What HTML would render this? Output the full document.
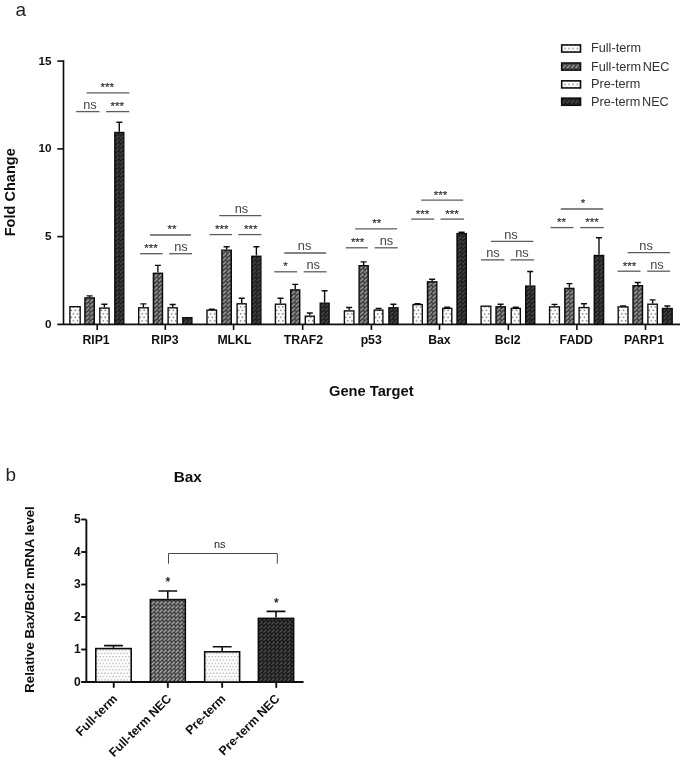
<!DOCTYPE html>
<html><head><meta charset="utf-8"><title>Figure</title>
<style>
html,body{margin:0;padding:0;background:#fff;}
body{width:685px;height:761px;overflow:hidden;font-family:"Liberation Sans",sans-serif;}
svg{display:block;}
text{font-family:"Liberation Sans",sans-serif;}
.b{font-weight:bold;fill:#111;}
.g{fill:#444;}
</style></head><body>
<svg width="685" height="761" viewBox="0 0 685 761">
<defs>
<pattern id="dots" x="1" y="-1.5" width="4.1" height="6.9" patternUnits="userSpaceOnUse">
<rect width="4.1" height="6.9" fill="#fdfdfd"/><rect x="2.4" y="4.1" width="1.4" height="1.4" fill="#747474"/><rect x="0.35" y="0.65" width="1.4" height="1.4" fill="#747474"/>
</pattern>
<pattern id="dotsb" x="1.2" y="-0.5" width="3.2" height="6.6" patternUnits="userSpaceOnUse">
<rect width="3.2" height="6.6" fill="#fdfdfd"/><rect x="0.3" y="1.1" width="1.05" height="1.05" fill="#8c8c8c"/><rect x="1.9" y="4.4" width="1.05" height="1.05" fill="#8c8c8c"/>
</pattern>
<pattern id="hg" x="1.175" y="-0.5" width="4.25" height="4.2" patternUnits="userSpaceOnUse">
<rect width="4.25" height="4.2" fill="#383838"/><path d="M1.0,3.25 L3.25,1.0" stroke="#959595" stroke-width="1.75" stroke-linecap="round"/>
</pattern>
<pattern id="hd" x="1.175" y="-0.5" width="4.25" height="4.2" patternUnits="userSpaceOnUse">
<rect width="4.25" height="4.2" fill="#1a1a1a"/><path d="M1.0,3.25 L3.25,1.0" stroke="#444" stroke-width="1.75" stroke-linecap="round"/>
</pattern>
<pattern id="hgb" x="1.3" y="-0.5" width="4.02" height="4.03" patternUnits="userSpaceOnUse">
<rect width="4.02" height="4.03" fill="#363636"/><path d="M0.95,3.1 L3.1,0.95" stroke="#a4a4a4" stroke-width="1.7" stroke-linecap="round"/>
</pattern>
<pattern id="hdb" x="1.3" y="-0.5" width="4.02" height="4.03" patternUnits="userSpaceOnUse">
<rect width="4.02" height="4.03" fill="#141414"/><path d="M0.95,3.1 L3.1,0.95" stroke="#4a4a4a" stroke-width="1.7" stroke-linecap="round"/>
</pattern>
<filter id="bl" x="-2%" y="-2%" width="104%" height="104%"><feGaussianBlur stdDeviation="0.6"/></filter>
</defs>
<rect width="685" height="761" fill="#fff"/>
<g filter="url(#bl)">

<text x="15.5" y="15.6" font-size="19" fill="#222">a</text>
<text x="5.5" y="480.5" font-size="19" fill="#222">b</text>
<g stroke="#111" stroke-width="1.6" fill="none">
<path d="M63.5,60.3 V324.35"/>
<path d="M57.3,324.35 H680"/>
<path d="M57.3,236.6 H63.5"/>
<path d="M57.3,148.9 H63.5"/>
<path d="M57.3,61.1 H63.5"/>
<path d="M97.2,324.35 V329.95000000000005"/>
<path d="M165.3,324.35 V329.95000000000005"/>
<path d="M233.6,324.35 V329.95000000000005"/>
<path d="M302.7,324.35 V329.95000000000005"/>
<path d="M371.4,324.35 V329.95000000000005"/>
<path d="M439.5,324.35 V329.95000000000005"/>
<path d="M508.3,324.35 V329.95000000000005"/>
<path d="M576.9,324.35 V329.95000000000005"/>
<path d="M645.5,324.35 V329.95000000000005"/>
</g>
<text class="b" x="51.5" y="327.8" font-size="11.7" text-anchor="end">0</text>
<text class="b" x="51.5" y="240.0" font-size="11.7" text-anchor="end">5</text>
<text class="b" x="51.5" y="152.3" font-size="11.7" text-anchor="end">10</text>
<text class="b" x="51.5" y="64.5" font-size="11.7" text-anchor="end">15</text>
<text class="b" font-size="14.55" text-anchor="middle" transform="translate(14.6,192.3) rotate(-90)">Fold Change</text>
<text class="b" x="371.3" y="395.5" font-size="14.7" text-anchor="middle">Gene Target</text>
<text class="b" x="96.0" y="344.0" font-size="12.25" text-anchor="middle">RIP1</text>
<text class="b" x="164.9" y="344.0" font-size="12.25" text-anchor="middle">RIP3</text>
<text class="b" x="234.4" y="344.0" font-size="12.25" text-anchor="middle">MLKL</text>
<text class="b" x="303.4" y="344.0" font-size="12.25" text-anchor="middle">TRAF2</text>
<text class="b" x="371.2" y="344.0" font-size="12.25" text-anchor="middle">p53</text>
<text class="b" x="439.4" y="344.0" font-size="12.25" text-anchor="middle">Bax</text>
<text class="b" x="507.7" y="344.0" font-size="12.25" text-anchor="middle">Bcl2</text>
<text class="b" x="576.3" y="344.0" font-size="12.25" text-anchor="middle">FADD</text>
<text class="b" x="644.0" y="344.0" font-size="12.25" text-anchor="middle">PARP1</text>
<g transform="translate(69.20,324.35)"><rect x="0.70" y="-17.65" width="10.30" height="17.65" fill="url(#dots)" stroke="#111" stroke-width="1.4"/></g>
<path d="M89.6,297.2 V295.9 M86.6,295.9 H92.6" stroke="#111" stroke-width="1.4" fill="none"/>
<g transform="translate(84.20,324.35)"><rect x="0.70" y="-26.45" width="9.40" height="26.45" fill="url(#hg)" stroke="#111" stroke-width="1.4"/></g>
<path d="M104.4,307.4 V304.2 M101.4,304.2 H107.4" stroke="#111" stroke-width="1.4" fill="none"/>
<g transform="translate(99.10,324.35)"><rect x="0.70" y="-16.25" width="9.30" height="16.25" fill="url(#dots)" stroke="#111" stroke-width="1.4"/></g>
<path d="M119.3,131.8 V122.2 M116.3,122.2 H122.3" stroke="#111" stroke-width="1.4" fill="none"/>
<g transform="translate(114.10,324.35)"><rect x="0.70" y="-191.85" width="9.00" height="191.85" fill="url(#hd)" stroke="#111" stroke-width="1.4"/></g>
<path d="M143.4,307.1 V303.9 M140.4,303.9 H146.4" stroke="#111" stroke-width="1.4" fill="none"/>
<g transform="translate(138.00,324.35)"><rect x="0.70" y="-16.55" width="9.50" height="16.55" fill="url(#dots)" stroke="#111" stroke-width="1.4"/></g>
<path d="M157.9,272.6 V265.4 M154.9,265.4 H160.9" stroke="#111" stroke-width="1.4" fill="none"/>
<g transform="translate(152.70,324.35)"><rect x="0.70" y="-51.05" width="9.10" height="51.05" fill="url(#hg)" stroke="#111" stroke-width="1.4"/></g>
<path d="M172.7,307.1 V304.5 M169.7,304.5 H175.7" stroke="#111" stroke-width="1.4" fill="none"/>
<g transform="translate(167.40,324.35)"><rect x="0.70" y="-16.55" width="9.10" height="16.55" fill="url(#dots)" stroke="#111" stroke-width="1.4"/></g>
<g transform="translate(182.10,324.35)"><rect x="0.70" y="-6.65" width="9.10" height="6.65" fill="url(#hd)" stroke="#111" stroke-width="1.4"/></g>
<path d="M211.8,309.4 V309.2 M208.8,309.2 H214.8" stroke="#111" stroke-width="1.4" fill="none"/>
<g transform="translate(206.30,324.35)"><rect x="0.70" y="-14.25" width="9.50" height="14.25" fill="url(#dots)" stroke="#111" stroke-width="1.4"/></g>
<path d="M226.6,249.5 V246.7 M223.6,246.7 H229.6" stroke="#111" stroke-width="1.4" fill="none"/>
<g transform="translate(221.20,324.35)"><rect x="0.70" y="-74.15" width="9.40" height="74.15" fill="url(#hg)" stroke="#111" stroke-width="1.4"/></g>
<path d="M241.7,303.1 V298.2 M238.7,298.2 H244.7" stroke="#111" stroke-width="1.4" fill="none"/>
<g transform="translate(236.40,324.35)"><rect x="0.70" y="-20.55" width="9.10" height="20.55" fill="url(#dots)" stroke="#111" stroke-width="1.4"/></g>
<path d="M256.4,255.6 V246.7 M253.4,246.7 H259.4" stroke="#111" stroke-width="1.4" fill="none"/>
<g transform="translate(251.10,324.35)"><rect x="0.70" y="-68.05" width="9.10" height="68.05" fill="url(#hd)" stroke="#111" stroke-width="1.4"/></g>
<path d="M280.5,303.5 V298.2 M277.5,298.2 H283.5" stroke="#111" stroke-width="1.4" fill="none"/>
<g transform="translate(274.70,324.35)"><rect x="0.70" y="-20.15" width="10.20" height="20.15" fill="url(#dots)" stroke="#111" stroke-width="1.4"/></g>
<path d="M295.2,289.2 V284.4 M292.2,284.4 H298.2" stroke="#111" stroke-width="1.4" fill="none"/>
<g transform="translate(290.00,324.35)"><rect x="0.70" y="-34.45" width="9.00" height="34.45" fill="url(#hg)" stroke="#111" stroke-width="1.4"/></g>
<path d="M309.8,315.5 V313.0 M306.8,313.0 H312.8" stroke="#111" stroke-width="1.4" fill="none"/>
<g transform="translate(304.60,324.35)"><rect x="0.70" y="-8.15" width="9.00" height="8.15" fill="url(#dots)" stroke="#111" stroke-width="1.4"/></g>
<path d="M324.6,302.5 V290.7 M321.6,290.7 H327.6" stroke="#111" stroke-width="1.4" fill="none"/>
<g transform="translate(319.50,324.35)"><rect x="0.70" y="-21.15" width="8.90" height="21.15" fill="url(#hd)" stroke="#111" stroke-width="1.4"/></g>
<path d="M349.1,310.2 V307.5 M346.1,307.5 H352.1" stroke="#111" stroke-width="1.4" fill="none"/>
<g transform="translate(343.70,324.35)"><rect x="0.70" y="-13.45" width="9.50" height="13.45" fill="url(#dots)" stroke="#111" stroke-width="1.4"/></g>
<path d="M363.6,265.0 V261.9 M360.6,261.9 H366.6" stroke="#111" stroke-width="1.4" fill="none"/>
<g transform="translate(358.40,324.35)"><rect x="0.70" y="-58.65" width="9.10" height="58.65" fill="url(#hg)" stroke="#111" stroke-width="1.4"/></g>
<path d="M378.6,309.4 V308.5 M375.6,308.5 H381.6" stroke="#111" stroke-width="1.4" fill="none"/>
<g transform="translate(373.50,324.35)"><rect x="0.70" y="-14.25" width="8.70" height="14.25" fill="url(#dots)" stroke="#111" stroke-width="1.4"/></g>
<path d="M393.4,307.1 V304.3 M390.4,304.3 H396.4" stroke="#111" stroke-width="1.4" fill="none"/>
<g transform="translate(388.20,324.35)"><rect x="0.70" y="-16.55" width="9.10" height="16.55" fill="url(#hd)" stroke="#111" stroke-width="1.4"/></g>
<path d="M417.6,303.9 V303.6 M414.6,303.6 H420.6" stroke="#111" stroke-width="1.4" fill="none"/>
<g transform="translate(412.30,324.35)"><rect x="0.70" y="-19.75" width="9.30" height="19.75" fill="url(#dots)" stroke="#111" stroke-width="1.4"/></g>
<path d="M432.1,281.1 V279.3 M429.1,279.3 H435.1" stroke="#111" stroke-width="1.4" fill="none"/>
<g transform="translate(426.80,324.35)"><rect x="0.70" y="-42.55" width="9.30" height="42.55" fill="url(#hg)" stroke="#111" stroke-width="1.4"/></g>
<path d="M447.2,307.7 V307.2 M444.2,307.2 H450.2" stroke="#111" stroke-width="1.4" fill="none"/>
<g transform="translate(442.00,324.35)"><rect x="0.70" y="-15.95" width="9.10" height="15.95" fill="url(#dots)" stroke="#111" stroke-width="1.4"/></g>
<path d="M461.6,232.9 V232.2 M458.6,232.2 H464.6" stroke="#111" stroke-width="1.4" fill="none"/>
<g transform="translate(456.30,324.35)"><rect x="0.70" y="-90.75" width="9.30" height="90.75" fill="url(#hd)" stroke="#111" stroke-width="1.4"/></g>
<g transform="translate(480.40,324.35)"><rect x="0.70" y="-18.15" width="9.70" height="18.15" fill="url(#dots)" stroke="#111" stroke-width="1.4"/></g>
<path d="M500.6,306.1 V304.3 M497.6,304.3 H503.6" stroke="#111" stroke-width="1.4" fill="none"/>
<g transform="translate(495.30,324.35)"><rect x="0.70" y="-17.55" width="9.30" height="17.55" fill="url(#hg)" stroke="#111" stroke-width="1.4"/></g>
<path d="M515.8,307.7 V307.2 M512.8,307.2 H518.8" stroke="#111" stroke-width="1.4" fill="none"/>
<g transform="translate(510.50,324.35)"><rect x="0.70" y="-15.95" width="9.10" height="15.95" fill="url(#dots)" stroke="#111" stroke-width="1.4"/></g>
<path d="M530.2,285.4 V271.5 M527.2,271.5 H533.2" stroke="#111" stroke-width="1.4" fill="none"/>
<g transform="translate(525.00,324.35)"><rect x="0.70" y="-38.25" width="9.10" height="38.25" fill="url(#hd)" stroke="#111" stroke-width="1.4"/></g>
<path d="M554.5,306.2 V304.4 M551.5,304.4 H557.5" stroke="#111" stroke-width="1.4" fill="none"/>
<g transform="translate(548.90,324.35)"><rect x="0.70" y="-17.45" width="9.80" height="17.45" fill="url(#dots)" stroke="#111" stroke-width="1.4"/></g>
<path d="M569.4,287.7 V283.6 M566.4,283.6 H572.4" stroke="#111" stroke-width="1.4" fill="none"/>
<g transform="translate(564.10,324.35)"><rect x="0.70" y="-35.95" width="9.10" height="35.95" fill="url(#hg)" stroke="#111" stroke-width="1.4"/></g>
<path d="M584.0,306.9 V303.7 M581.0,303.7 H587.0" stroke="#111" stroke-width="1.4" fill="none"/>
<g transform="translate(578.40,324.35)"><rect x="0.70" y="-16.75" width="9.80" height="16.75" fill="url(#dots)" stroke="#111" stroke-width="1.4"/></g>
<path d="M599.0,254.8 V237.8 M596.0,237.8 H602.0" stroke="#111" stroke-width="1.4" fill="none"/>
<g transform="translate(593.60,324.35)"><rect x="0.70" y="-68.85" width="9.30" height="68.85" fill="url(#hd)" stroke="#111" stroke-width="1.4"/></g>
<path d="M623.1,306.2 V306.0 M620.1,306.0 H626.1" stroke="#111" stroke-width="1.4" fill="none"/>
<g transform="translate(617.50,324.35)"><rect x="0.70" y="-17.45" width="9.80" height="17.45" fill="url(#dots)" stroke="#111" stroke-width="1.4"/></g>
<path d="M637.8,285.0 V282.5 M634.8,282.5 H640.8" stroke="#111" stroke-width="1.4" fill="none"/>
<g transform="translate(632.30,324.35)"><rect x="0.70" y="-38.65" width="9.50" height="38.65" fill="url(#hg)" stroke="#111" stroke-width="1.4"/></g>
<path d="M652.6,303.5 V299.9 M649.6,299.9 H655.6" stroke="#111" stroke-width="1.4" fill="none"/>
<g transform="translate(647.20,324.35)"><rect x="0.70" y="-20.15" width="9.40" height="20.15" fill="url(#dots)" stroke="#111" stroke-width="1.4"/></g>
<path d="M667.3,307.8 V306.0 M664.3,306.0 H670.3" stroke="#111" stroke-width="1.4" fill="none"/>
<g transform="translate(661.80,324.35)"><rect x="0.70" y="-15.85" width="9.70" height="15.85" fill="url(#hd)" stroke="#111" stroke-width="1.4"/></g>
<path d="M76.1,111.6 H99.4" stroke="#5c5c5c" stroke-width="1.3"/>
<text class="g" x="89.9" y="109.0" font-size="12.8" text-anchor="middle">ns</text>
<path d="M106.1,111.6 H129.3" stroke="#5c5c5c" stroke-width="1.3"/>
<text x="117.3" y="110.0" font-size="11.5" text-anchor="middle" stroke="#333" stroke-width="0.2" fill="#333">***</text>
<path d="M86.6,92.9 H129.3" stroke="#5c5c5c" stroke-width="1.3"/>
<text x="107.3" y="91.3" font-size="11.5" text-anchor="middle" stroke="#333" stroke-width="0.2" fill="#333">***</text>
<path d="M140.1,253.7 H162.6" stroke="#5c5c5c" stroke-width="1.3"/>
<text x="151.0" y="252.1" font-size="11.5" text-anchor="middle" stroke="#333" stroke-width="0.2" fill="#333">***</text>
<path d="M169.3,253.7 H192.0" stroke="#5c5c5c" stroke-width="1.3"/>
<text class="g" x="181.0" y="251.1" font-size="12.8" text-anchor="middle">ns</text>
<path d="M150.0,235.0 H191.0" stroke="#5c5c5c" stroke-width="1.3"/>
<text x="172.0" y="233.4" font-size="11.5" text-anchor="middle" stroke="#333" stroke-width="0.2" fill="#333">**</text>
<path d="M209.5,234.6 H232.0" stroke="#5c5c5c" stroke-width="1.3"/>
<text x="221.7" y="233.0" font-size="11.5" text-anchor="middle" stroke="#333" stroke-width="0.2" fill="#333">***</text>
<path d="M238.3,234.6 H261.4" stroke="#5c5c5c" stroke-width="1.3"/>
<text x="250.7" y="233.0" font-size="11.5" text-anchor="middle" stroke="#333" stroke-width="0.2" fill="#333">***</text>
<path d="M219.3,215.6 H261.4" stroke="#5c5c5c" stroke-width="1.3"/>
<text class="g" x="241.4" y="213.0" font-size="12.8" text-anchor="middle">ns</text>
<path d="M274.3,271.8 H297.2" stroke="#5c5c5c" stroke-width="1.3"/>
<text x="285.6" y="270.2" font-size="11.5" text-anchor="middle" stroke="#333" stroke-width="0.2" fill="#333">*</text>
<path d="M303.7,271.8 H326.6" stroke="#5c5c5c" stroke-width="1.3"/>
<text class="g" x="313.2" y="269.2" font-size="12.8" text-anchor="middle">ns</text>
<path d="M284.2,253.0 H326.2" stroke="#5c5c5c" stroke-width="1.3"/>
<text class="g" x="304.6" y="250.4" font-size="12.8" text-anchor="middle">ns</text>
<path d="M345.8,247.8 H367.8" stroke="#5c5c5c" stroke-width="1.3"/>
<text x="357.6" y="246.2" font-size="11.5" text-anchor="middle" stroke="#333" stroke-width="0.2" fill="#333">***</text>
<path d="M374.6,247.8 H397.7" stroke="#5c5c5c" stroke-width="1.3"/>
<text class="g" x="386.5" y="245.2" font-size="12.8" text-anchor="middle">ns</text>
<path d="M355.2,228.9 H397.0" stroke="#5c5c5c" stroke-width="1.3"/>
<text x="376.7" y="227.3" font-size="11.5" text-anchor="middle" stroke="#333" stroke-width="0.2" fill="#333">**</text>
<path d="M411.2,219.1 H434.2" stroke="#5c5c5c" stroke-width="1.3"/>
<text x="422.5" y="217.5" font-size="11.5" text-anchor="middle" stroke="#333" stroke-width="0.2" fill="#333">***</text>
<path d="M440.6,219.1 H464.1" stroke="#5c5c5c" stroke-width="1.3"/>
<text x="452.0" y="217.5" font-size="11.5" text-anchor="middle" stroke="#333" stroke-width="0.2" fill="#333">***</text>
<path d="M421.2,200.1 H463.2" stroke="#5c5c5c" stroke-width="1.3"/>
<text x="440.5" y="198.5" font-size="11.5" text-anchor="middle" stroke="#333" stroke-width="0.2" fill="#333">***</text>
<path d="M481.0,259.9 H504.3" stroke="#5c5c5c" stroke-width="1.3"/>
<text class="g" x="493.0" y="257.3" font-size="12.8" text-anchor="middle">ns</text>
<path d="M510.5,259.9 H534.0" stroke="#5c5c5c" stroke-width="1.3"/>
<text class="g" x="522.0" y="257.3" font-size="12.8" text-anchor="middle">ns</text>
<path d="M490.9,241.4 H533.3" stroke="#5c5c5c" stroke-width="1.3"/>
<text class="g" x="511.0" y="238.8" font-size="12.8" text-anchor="middle">ns</text>
<path d="M550.5,227.6 H573.5" stroke="#5c5c5c" stroke-width="1.3"/>
<text x="561.5" y="226.0" font-size="11.5" text-anchor="middle" stroke="#333" stroke-width="0.2" fill="#333">**</text>
<path d="M580.2,227.6 H603.7" stroke="#5c5c5c" stroke-width="1.3"/>
<text x="592.0" y="226.0" font-size="11.5" text-anchor="middle" stroke="#333" stroke-width="0.2" fill="#333">***</text>
<path d="M560.8,209.0 H603.2" stroke="#5c5c5c" stroke-width="1.3"/>
<text x="583.1" y="207.4" font-size="11.5" text-anchor="middle" stroke="#333" stroke-width="0.2" fill="#333">*</text>
<path d="M617.5,271.2 H640.5" stroke="#5c5c5c" stroke-width="1.3"/>
<text x="629.5" y="269.6" font-size="11.5" text-anchor="middle" stroke="#333" stroke-width="0.2" fill="#333">***</text>
<path d="M647.2,271.2 H670.0" stroke="#5c5c5c" stroke-width="1.3"/>
<text class="g" x="657.0" y="268.6" font-size="12.8" text-anchor="middle">ns</text>
<path d="M627.6,252.6 H670.0" stroke="#5c5c5c" stroke-width="1.3"/>
<text class="g" x="646.1" y="250.0" font-size="12.8" text-anchor="middle">ns</text>
<g transform="translate(560.9,52.10)"><rect x="0.8" y="-7.15" width="18.8" height="7.1" fill="url(#dots)" stroke="#111" stroke-width="1.6"/></g>
<text x="591.0" y="52.4" font-size="12.7" word-spacing="-1.9" fill="#333">Full-term</text>
<g transform="translate(560.9,69.15)"><rect x="0.8" y="-6.15" width="18.8" height="7.1" fill="url(#hg)" stroke="#111" stroke-width="1.6"/></g>
<text x="591.0" y="70.5" font-size="12.7" word-spacing="-1.9" fill="#333">Full-term NEC</text>
<g transform="translate(560.9,88.00)"><rect x="0.8" y="-7.15" width="18.8" height="7.1" fill="url(#dots)" stroke="#111" stroke-width="1.6"/></g>
<text x="591.0" y="88.3" font-size="12.7" word-spacing="-1.9" fill="#333">Pre-term</text>
<g transform="translate(560.9,104.30)"><rect x="0.8" y="-6.15" width="18.8" height="7.1" fill="url(#hd)" stroke="#111" stroke-width="1.6"/></g>
<text x="591.0" y="105.6" font-size="12.7" word-spacing="-1.9" fill="#333">Pre-term NEC</text>
<g stroke="#111" stroke-width="1.9" fill="none">
<path d="M86.35,519.5 V682.0"/>
<path d="M81.2,682.0 H303.6"/>
<path d="M81.2,649.5 H86.35"/>
<path d="M81.2,617.0 H86.35"/>
<path d="M81.2,584.5 H86.35"/>
<path d="M81.2,552.0 H86.35"/>
<path d="M81.2,519.5 H86.35"/>
<path d="M113.75,682.0 V687.8"/>
<path d="M167.85,682.0 V687.8"/>
<path d="M222.15,682.0 V687.8"/>
<path d="M276.25,682.0 V687.8"/>
</g>
<text class="b" x="80.8" y="685.9" font-size="12" text-anchor="end">0</text>
<text class="b" x="80.8" y="653.4" font-size="12" text-anchor="end">1</text>
<text class="b" x="80.8" y="620.9" font-size="12" text-anchor="end">2</text>
<text class="b" x="80.8" y="588.4" font-size="12" text-anchor="end">3</text>
<text class="b" x="80.8" y="555.9" font-size="12" text-anchor="end">4</text>
<text class="b" x="80.8" y="523.4" font-size="12" text-anchor="end">5</text>
<text class="b" font-size="13.2" text-anchor="middle" transform="translate(33.6,599.5) rotate(-90)">Relative Bax/Bcl2 mRNA level</text>
<text class="b" x="187.8" y="482.2" font-size="15.3" text-anchor="middle">Bax</text>
<path d="M113.5,647.8 V645.6 M104.1,645.6 H122.9" stroke="#111" stroke-width="1.6" fill="none"/>
<g transform="translate(95.00,682.0)"><rect x="0.80" y="-33.40" width="35.40" height="33.40" fill="url(#dotsb)" stroke="#111" stroke-width="1.6"/></g>
<path d="M167.8,598.8 V591.0 M158.4,591.0 H177.2" stroke="#111" stroke-width="1.6" fill="none"/>
<g transform="translate(149.60,682.0)"><rect x="0.80" y="-82.40" width="34.90" height="82.40" fill="url(#hgb)" stroke="#111" stroke-width="1.6"/></g>
<path d="M222.2,651.0 V646.8 M212.8,646.8 H231.6" stroke="#111" stroke-width="1.6" fill="none"/>
<g transform="translate(203.90,682.0)"><rect x="0.80" y="-30.20" width="34.90" height="30.20" fill="url(#dotsb)" stroke="#111" stroke-width="1.6"/></g>
<path d="M276.0,617.6 V611.4 M266.6,611.4 H285.4" stroke="#111" stroke-width="1.6" fill="none"/>
<g transform="translate(257.60,682.0)"><rect x="0.80" y="-63.60" width="35.20" height="63.60" fill="url(#hdb)" stroke="#111" stroke-width="1.6"/></g>
<path d="M168.5,563.7 V553.5 H277.3 V563.7" stroke="#333" stroke-width="0.9" fill="none"/>
<text x="219.8" y="548" font-size="11" fill="#222" text-anchor="middle">ns</text>
<text x="167.8" y="586.1" font-size="12" fill="#111" stroke="#111" stroke-width="0.25" text-anchor="middle">*</text>
<text x="276.3" y="606.9" font-size="12" fill="#111" stroke="#111" stroke-width="0.25" text-anchor="middle">*</text>
<text class="b" font-size="12.3" text-anchor="end" transform="translate(118.0,699.5) rotate(-45)">Full-term</text>
<text class="b" font-size="12.3" text-anchor="end" transform="translate(172.0,699.5) rotate(-45)">Full-term NEC</text>
<text class="b" font-size="12.3" text-anchor="end" transform="translate(226.3,699.5) rotate(-45)">Pre-term</text>
<text class="b" font-size="12.3" text-anchor="end" transform="translate(280.4,699.5) rotate(-45)">Pre-term NEC</text>
</g></svg></body></html>
